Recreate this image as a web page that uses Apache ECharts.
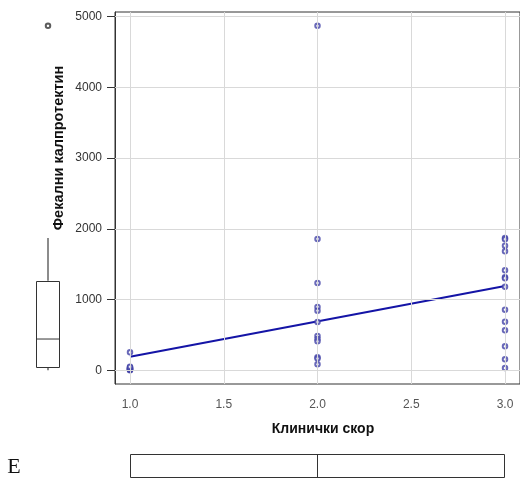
<!DOCTYPE html>
<html><head><meta charset="utf-8">
<script src="https://cdn.jsdelivr.net/npm/echarts@6/dist/echarts.min.js"></script>
<style>html,body{margin:0;padding:0;background:#fff}#c{width:520px;height:482px}</style>
</head><body><div id="c"></div>
<script>
// ---- data ----
const xTicks = [1.0, 1.5, 2.0, 2.5, 3.0];
const xTickLabels = ['1.0', '1.5', '2.0', '2.5', '3.0'];
const yTicks = [0, 1000, 2000, 3000, 4000, 5000];
const yTickLabels = ['0', '1000', '2000', '3000', '4000', '5000'];
const score1 = [0, 5, 10, 15, 20, 25, 30, 40, 50, 253];
const score2 = [4870, 1856, 1233, 894, 842, 682, 484, 441, 408, 182, 165, 83];
const score3 = [1870, 1851, 1761, 1681, 1413, 1314, 1300, 1181, 856, 686, 564, 338, 154, 31];
const fitStart = [1, 191];
const fitEnd = [3, 1191];
const yBox = [0, 35, 441, 1266, 1870];      // lower whisker, Q1, median, Q3, upper whisker
const yOutliers = [4870];
const xBox = [1, 1, 2, 3, 3];
const xTitle = 'Клинички скор';
const yTitle = 'Фекални калпротектин';
const panelLetter = 'Е';

const xRange = [0.92, 3.08];
const yRange = [-195, 5065];

const pts = [].concat(
  score1.map(v => [1, v]),
  score2.map(v => [2, v]),
  score3.map(v => [3, v])
);

function boxRender(vertical) {
  return function (params, api) {
    const v = [api.value(0), api.value(1), api.value(2), api.value(3), api.value(4)];
    const P = (t, val) => vertical ? api.coord([t, val]) : api.coord([val, t]);
    const a = P(0, v[1]), b = P(1, v[3]);
    const x = Math.round(Math.min(a[0], b[0])) + 0.5, y = Math.round(Math.min(a[1], b[1])) + 0.5;
    const w = Math.round(Math.abs(a[0] - b[0])) - 1, h = Math.round(Math.abs(a[1] - b[1])) - 1;
    const m0 = P(0, v[2]), m1 = P(1, v[2]);
    const lo0 = P(0.5, v[0]), lo1 = P(0.5, v[1]);
    const hi0 = P(0.5, v[3]), hi1 = P(0.5, v[4]);
    const line = (p, q, c, wd) => ({
      type: 'line',
      shape: { x1: p[0], y1: p[1], x2: q[0], y2: q[1] },
      style: { stroke: c, lineWidth: wd }
    });
    return {
      type: 'group',
      children: [
        line(lo0, lo1, '#666', 1.5),
        line(hi0, hi1, '#666', 1.5),
        { type: 'rect', shape: { x: x, y: y, width: w, height: h },
          style: { fill: '#fff', stroke: '#333', lineWidth: 1 } },
        line(m0, m1, '#333', 1)
      ]
    };
  };
}

const chart = echarts.init(document.getElementById('c'), null, { renderer: 'canvas' });
const lblFont = { fontFamily: 'Liberation Sans, Arial, sans-serif', fontSize: 12 };

chart.setOption({
  animation: false,
  backgroundColor: '#fff',
  grid: [
    { left: 115, top: 12, width: 406, height: 372, show: true, borderColor: '#333', borderWidth: 1, backgroundColor: 'transparent' },
    { left: 36, top: 12, width: 24, height: 372 },
    { left: 115, top: 454, width: 406, height: 24 }
  ],
  xAxis: [
    { gridIndex: 0, type: 'value', min: xRange[0], max: xRange[1],
      axisLine: { show: true, lineStyle: { color: '#333' } },
      axisTick: { show: true, customValues: xTicks, length: 7, lineStyle: { color: '#333' } },
      axisLabel: Object.assign({ customValues: xTicks, margin: 15, color: '#555',
        formatter: v => xTickLabels[xTicks.indexOf(v)] }, lblFont),
      splitLine: { show: false } },
    { gridIndex: 1, type: 'value', min: 0, max: 1, show: false },
    { gridIndex: 2, type: 'value', min: xRange[0], max: xRange[1], show: false }
  ],
  yAxis: [
    { gridIndex: 0, type: 'value', min: yRange[0], max: yRange[1],
      axisLine: { show: true, lineStyle: { color: '#333' } },
      axisTick: { show: true, customValues: yTicks, length: 8, lineStyle: { color: '#333' } },
      axisLabel: Object.assign({ customValues: yTicks, margin: 13, color: '#333',
        formatter: v => yTickLabels[yTicks.indexOf(v)] }, lblFont),
      splitLine: { show: false } },
    { gridIndex: 1, type: 'value', min: yRange[0], max: yRange[1], show: false },
    { gridIndex: 2, type: 'value', min: 0, max: 1, show: false }
  ],
  graphic: [
    { type: 'text', x: 323, y: 429, style: { text: xTitle, textAlign: 'center', textVerticalAlign: 'middle',
      font: 'bold 14px "Liberation Sans", Arial, sans-serif', fill: '#111' } },
    { type: 'text', x: 59, y: 148, rotation: Math.PI / 2, style: { text: yTitle, textAlign: 'center', textVerticalAlign: 'middle',
      font: 'bold 14.5px "Liberation Sans", Arial, sans-serif', fill: '#111' } },
    { type: 'text', x: 14, y: 467, style: { text: panelLetter, textAlign: 'center', textVerticalAlign: 'middle',
      font: '22px "Liberation Serif", "DejaVu Serif", serif', fill: '#111' } }
  ],
  series: [
    { type: 'line', xAxisIndex: 0, yAxisIndex: 0, data: [], silent: true, z: 0,
      markLine: { silent: true, symbol: 'none', animation: false, label: { show: false },
        lineStyle: { color: '#d9d9d9', width: 1, type: 'solid' },
        data: xTicks.map(v => ({ xAxis: v })).concat(yTicks.map(v => ({ yAxis: v }))) } },
    { type: 'line', xAxisIndex: 0, yAxisIndex: 0, data: [fitStart, fitEnd], symbol: 'none', z: 3,
      lineStyle: { color: '#1414a6', width: 2 } },
    { type: 'scatter', xAxisIndex: 0, yAxisIndex: 0, data: pts, symbol: 'emptyCircle', symbolSize: 4.5, z: 4,
      itemStyle: { color: '#4444a8', borderWidth: 0.9 } },
    { type: 'custom', xAxisIndex: 1, yAxisIndex: 1, renderItem: boxRender(true), data: [yBox], z: 2 },
    { type: 'scatter', xAxisIndex: 1, yAxisIndex: 1, data: yOutliers.map(v => [0.5, v]), symbol: 'emptyCircle', symbolSize: 4.5,
      itemStyle: { color: '#333', borderWidth: 0.9 } },
    { type: 'custom', xAxisIndex: 2, yAxisIndex: 2, renderItem: boxRender(false), data: [xBox], z: 2 }
  ]
});
</script>
</body></html>
